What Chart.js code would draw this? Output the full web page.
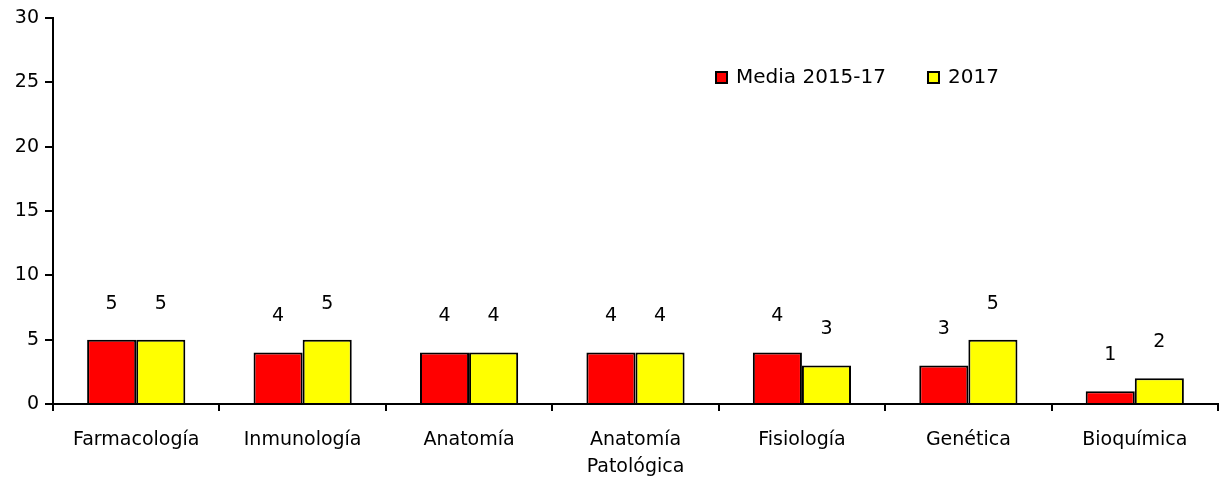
<!DOCTYPE html>
<html>
<head>
<meta charset="utf-8">
<script src="https://cdn.jsdelivr.net/npm/chart.js@4"></script>
<style>
  html, body { margin: 0; padding: 0; background: #fff; }
  #wrap { width: 1222px; height: 479px; position: relative; }
</style>
</head>
<body>
<div id="wrap"><canvas id="barChart"></canvas></div>
<script>
// ----- Data -----
const categories = ["Farmacología", "Inmunología", "Anatomía", ["Anatomía", "Patológica"], "Fisiología", "Genética", "Bioquímica"];
const seriesNames = ["Media 2015-17", "2017"];
const media1517 = [5, 4, 4, 4, 4, 3, 1];
const y2017 = [5, 5, 4, 4, 3, 5, 2];
const yTicks = [0, 5, 10, 15, 20, 25, 30];

const FONT = "'DejaVu Sans', sans-serif";
const COLORS = ["#FF0000", "#FFFF00"];

// ----- Value labels above bars -----
const valueLabels = {
  id: "valueLabels",
  afterDatasetsDraw(chart) {
    const { ctx } = chart;
    ctx.save();
    ctx.font = "19px " + FONT;
    ctx.fillStyle = "#000";
    ctx.textAlign = "center";
    ctx.textBaseline = "middle";
    chart.data.datasets.forEach((ds, i) => {
      chart.getDatasetMeta(i).data.forEach((bar, j) => {
        ctx.fillText(ds.data[j], bar.x, bar.y - 36);
      });
    });
    ctx.restore();
  }
};

// ----- Legend inside plot -----
const boxLegend = {
  id: "boxLegend",
  afterDraw(chart) {
    const { ctx } = chart;
    ctx.save();
    ctx.font = "20px " + FONT;
    ctx.textBaseline = "middle";
    let x = 716;
    const y = 78;
    chart.data.datasets.forEach((ds) => {
      ctx.fillStyle = ds.backgroundColor;
      ctx.fillRect(x, y - 6, 11, 11);
      ctx.strokeStyle = "#000";
      ctx.lineWidth = 2;
      ctx.strokeRect(x, y - 6, 11, 11);
      ctx.fillStyle = "#000";
      ctx.fillText(ds.label, x + 20, y);
      x += 20 + ctx.measureText(ds.label).width + 42;
    });
    ctx.restore();
  }
};

const ctx = document.getElementById("barChart").getContext("2d");
new Chart(ctx, {
  type: "bar",
  data: {
    labels: categories,
    datasets: [
      { label: seriesNames[0], data: media1517, backgroundColor: COLORS[0], borderColor: "#000", borderWidth: 2, borderSkipped: "bottom" },
      { label: seriesNames[1], data: y2017, backgroundColor: COLORS[1], borderColor: "#000", borderWidth: 2, borderSkipped: "bottom" }
    ]
  },
  options: {
    animation: false,
    responsive: true,
    maintainAspectRatio: false,
    devicePixelRatio: 1,
    layout: { padding: { top: 18, right: 4, left: 0, bottom: 0 } },
    plugins: { legend: { display: false }, tooltip: { enabled: false } },
    datasets: { bar: { categoryPercentage: 0.59, barPercentage: 1 } },
    scales: {
      x: {
        grid: { display: true, drawOnChartArea: false, color: "#000", lineWidth: 2, tickLength: 7, offset: true },
        border: { color: "#000", width: 2 },
        ticks: { color: "#000", font: { family: FONT, size: 19, lineHeight: 1.45 }, padding: 15, maxRotation: 0, autoSkip: false },
        afterFit(scale) { scale.height = 75; }
      },
      y: {
        min: 0,
        max: 30,
        afterBuildTicks(scale) { scale.ticks = yTicks.map((v) => ({ value: v })); },
        grid: { display: true, drawOnChartArea: false, color: "#000", lineWidth: 2, tickLength: 8 },
        border: { color: "#000", width: 2 },
        ticks: { color: "#000", font: { family: FONT, size: 19 }, padding: 6 },
        afterFit(scale) { scale.width = 53; }
      }
    }
  },
  plugins: [valueLabels, boxLegend]
});
</script>
</body>
</html>
